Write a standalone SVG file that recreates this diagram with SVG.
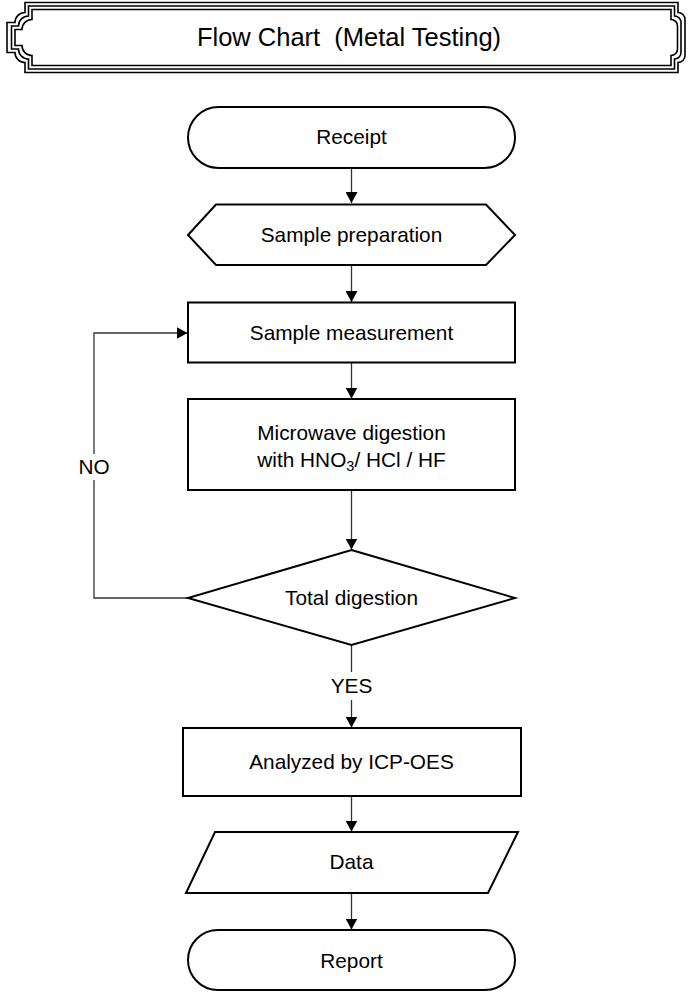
<svg xmlns="http://www.w3.org/2000/svg" width="688" height="992" viewBox="0 0 688 992">
<style>
.bg{fill:#ffffff}
.frame{fill:none;stroke:#000;stroke-width:1.6}
.shape{fill:#ffffff;stroke:#000;stroke-width:2}
.conn{fill:none;stroke:#333;stroke-width:1.3}
.t{font-family:"Liberation Sans",Arial,sans-serif;font-size:20.8px;fill:#000;text-anchor:middle}
.title{font-family:"Liberation Sans",Arial,sans-serif;font-size:25.5px;fill:#000;text-anchor:middle;white-space:pre}
</style>
<defs>
<marker id="arr" markerUnits="userSpaceOnUse" markerWidth="12" markerHeight="12" refX="11" refY="6" orient="auto">
<path d="M0,0 L11,6 L0,12 z" fill="#000"/>
</marker>
</defs>
<rect class="bg" x="0" y="0" width="688" height="992"/>
<g id="title">
<path class="frame" d="M25,2.5 V12.5 A10,10 0 0 0 15,22.5 H7 V52.5 H15 A10,10 0 0 0 25,62.5 V72.5 H678 V62.5 A7,7 0 0 0 685,55.5 V19.5 A7,7 0 0 0 678,12.5 V2.5 Z"/>
<path class="frame" d="M28.5,6 V16 A10,10 0 0 0 18.5,26 H11.5 V49 H18.5 A10,10 0 0 0 28.5,59 V69 H674.5 V59 A6.5,6.5 0 0 0 681,52.5 V22.5 A6.5,6.5 0 0 0 674.5,16 V6 Z"/>
<path class="frame" d="M32,9.5 V19.5 A10,10 0 0 0 22,29.5 H15 V45.5 H22 A10,10 0 0 0 32,55.5 V65.5 H671 V55.5 A6.5,6.5 0 0 0 677.5,49 V26 A6.5,6.5 0 0 0 671,19.5 V9.5 Z"/>
<text class="title" x="349" y="46">Flow Chart  (Metal Testing)</text>
</g>
<g id="connectors">
<path class="conn" d="M351.5,168 V203" marker-end="url(#arr)"/>
<path class="conn" d="M351.5,265 V302" marker-end="url(#arr)"/>
<path class="conn" d="M351.5,362.5 V398.5" marker-end="url(#arr)"/>
<path class="conn" d="M351.5,490 V549.5" marker-end="url(#arr)"/>
<path class="conn" d="M351.5,645 V672 M351.5,700 V727.5" marker-end="url(#arr)"/>
<path class="conn" d="M188,598 H94 V480 M94,454 V333 H187.5" marker-end="url(#arr)"/>
<path class="conn" d="M351.5,796 V831.5" marker-end="url(#arr)"/>
<path class="conn" d="M351.5,893 V929.5" marker-end="url(#arr)"/>
<text class="t" x="94" y="474">NO</text>
<text class="t" x="351.5" y="693">YES</text>
</g>
<g id="receipt">
<rect class="shape" x="188" y="107" width="327" height="61" rx="30.5" ry="30.5"/>
<text class="t" x="351.5" y="144">Receipt</text>
</g>
<g id="sample-preparation">
<path class="shape" d="M188,235 L216,204.5 H486 L515,235 L486,265 H216 Z"/>
<text class="t" x="351.5" y="242">Sample preparation</text>
</g>
<g id="sample-measurement">
<rect class="shape" x="188" y="302.5" width="327" height="60"/>
<text class="t" x="351.5" y="340">Sample measurement</text>
</g>
<g id="microwave-digestion">
<rect class="shape" x="188" y="399" width="327" height="91"/>
<text class="t" x="351.5" y="440">Microwave digestion</text>
<text class="t" x="351.5" y="467">with HNO<tspan font-size="14.5" dy="4">3</tspan><tspan dy="-4">/ HCl / HF</tspan></text>
</g>
<g id="total-digestion">
<path class="shape" d="M351.5,550 L515,598 L351.5,645 L188,598 Z"/>
<text class="t" x="351.5" y="605">Total digestion</text>
</g>
<g id="icp-oes">
<rect class="shape" x="183" y="728" width="338" height="68"/>
<text class="t" x="351.5" y="769">Analyzed by ICP-OES</text>
</g>
<g id="data">
<path class="shape" d="M215,832 H518 L488,893 H186 Z"/>
<text class="t" x="351.5" y="869">Data</text>
</g>
<g id="report">
<rect class="shape" x="188" y="930" width="327" height="60" rx="30" ry="30"/>
<text class="t" x="351.5" y="968">Report</text>
</g>
</svg>
